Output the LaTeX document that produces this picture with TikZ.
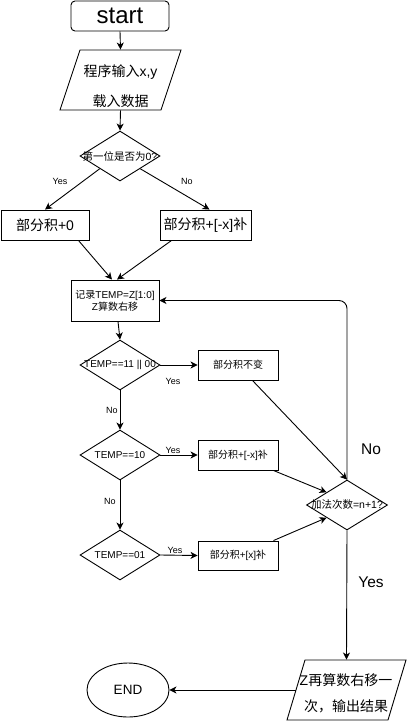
\documentclass[tikz,border=0pt]{standalone}
\usepackage{fontspec}
\setmainfont{Liberation Sans}
\newfontfamily\cjk{Noto Sans CJK SC}
\usetikzlibrary{shapes.geometric,arrows.meta}
\begin{document}
\begin{tikzpicture}[x=1pt,y=-1pt,line width=0.9pt,
  arr/.style={-{Stealth[length=7pt,width=7pt,inset=2pt]}},
  box/.style={draw,rectangle,inner sep=0pt},
  dia/.style={draw,diamond,inner sep=0pt,minimum width=80pt,minimum height=50pt},
  ghost/.style={rectangle,inner sep=0pt},
  small/.style={font=\fontsize{9}{10}\selectfont},
  big/.style={font=\fontsize{15.5}{17}\selectfont}]
\useasboundingbox (0,0) rectangle (407,721);
% start
\node[box,rounded corners=4pt,minimum width=98pt,minimum height=30pt,font=\fontsize{24}{26}\selectfont] (start) at (120,16) {start};
% input parallelogram
\draw (80,50) -- (181,50) -- (161,110) -- (60,110) -- cycle;
\node[ghost,minimum width=101pt,minimum height=60pt] (in) at (120.5,80) {};
\node[ghost,font=\fontsize{14}{16}\selectfont] (in1) at (120.5,72) {{\cjk 程序输入}x,y};
\node[ghost,font=\fontsize{14}{16}\selectfont] (in2) at (120.5,101) {\cjk 载入数据};
% decision 1
\node[dia] (d1) at (120,156) {};
\node[ghost,font=\fontsize{10.5}{12}\selectfont] (t1) at (d1.center) {{\cjk 第一位是否为}0?};
% boxes
\node[box,minimum width=88pt,minimum height=30pt,font=\fontsize{14}{16}\selectfont] (b1) at (45,225) {{\cjk 部分积}+0};
\node[box,minimum width=91pt,minimum height=30pt,font=\fontsize{14}{16}\selectfont] (b2) at (205.5,225) {{\cjk 部分积}+[-x]{\cjk 补}};
% record box
\node[box,minimum width=88pt,minimum height=41pt,align=center,font=\fontsize{10}{12}\selectfont] (rec) at (115,300.5) {{\cjk 记录}TEMP=Z[1:0]\\Z{\cjk 算数右移}};
% decisions 2-4
\node[dia] (d2) at (120,365) {};
\node[ghost,font=\fontsize{10}{12}\selectfont] (t2) at (d2.center) {TEMP==11 || 00};
\node[dia] (d3) at (120,455) {};
\node[ghost,font=\fontsize{10}{12}\selectfont] (t3) at (d3.center) {TEMP==10};
\node[dia] (d4) at (120,555) {};
\node[ghost,font=\fontsize{10}{12}\selectfont] (t4) at (d4.center) {TEMP==01};
% right boxes
\node[box,minimum width=80pt,minimum height=30pt,font=\fontsize{10}{12}\selectfont] (bk) at (238,365) {\cjk 部分积不变};
\node[box,minimum width=80pt,minimum height=30pt,font=\fontsize{10}{12}\selectfont] (b3) at (238,455) {{\cjk 部分积}+[-x]{\cjk 补}};
\node[box,minimum width=80pt,minimum height=29pt,font=\fontsize{10}{12}\selectfont] (b4) at (238,555.5) {{\cjk 部分积}+[x]{\cjk 补}};
% decision 5
\node[dia,minimum width=81pt] (d5) at (347,505) {};
\node[ghost,font=\fontsize{10.5}{12}\selectfont] (t5) at (d5.center) {{\cjk 加法次数}=n+1?};
% output parallelogram
\draw (305,660) -- (406,660) -- (388,720) -- (287,720) -- cycle;
\node[ghost,minimum width=101pt,minimum height=60pt] (out) at (346.5,690) {};
\node[ghost,font=\fontsize{14}{16}\selectfont] (o1) at (346,680) {Z{\cjk 再算数右移一}};
\node[ghost,font=\fontsize{14}{16}\selectfont] (o2) at (346,706) {\cjk 次，输出结果};
\coordinate (outl) at (296,690);
% end
\node[draw,ellipse,minimum width=82pt,minimum height=54pt,inner sep=0pt,font=\fontsize{13.5}{15}\selectfont] (end) at (128,690) {END};
% connectors
\draw[arr] (start.south) -- (in.north);
\draw[arr] (in.south) -- (d1.north);
\draw[arr] (d1.south west) -- (b1.north);
\draw[arr] (d1.south east) -- ([xshift=4pt]b2.north);
\node[small] (ly1) at (60,181) {Yes};
\node[small] (ln1) at (187,181) {No};
\draw[arr] ([xshift=-11pt]b1.south east) -- ([xshift=-3pt]rec.north);
\draw[arr] ([xshift=12pt]b2.south west) -- ([xshift=2pt]rec.north);
\draw[arr] ([xshift=3pt]rec.south) -- (d2.north);
\draw[arr] (d2.east) -- (bk.west);
\node[small] (ly2) at (173,381) {Yes};
\draw[arr] (d2.south) -- (d3.north);
\node[small] (ln2) at (112,410) {No};
\draw[arr] (d3.east) -- (b3.west);
\node[small] (ly3) at (173,450) {Yes};
\draw[arr] (d3.south) -- (d4.north);
\node[small] (ln3) at (110,501) {No};
\draw[arr] (d4.east) -- (b4.west);
\node[small] (ly4) at (175,550) {Yes};
\draw[arr] ([xshift=-26pt]bk.south east) -- (d5.north);
\draw[arr] ([xshift=-5pt]b3.south east) -- (d5.north west);
\draw[arr] ([xshift=-5pt]b4.north east) -- (d5.south west);
\draw[arr,rounded corners=8pt] (d5.north) -- (d5.north |- rec.east) -- (rec.east);
\node[big] (ln5) at (371,449) {No};
\draw[arr] (d5.south) -- (out.north);
\node[big] (ly5) at (371,582) {Yes};
\draw[arr] (outl) -- (end.east);
\end{tikzpicture}
\end{document}
